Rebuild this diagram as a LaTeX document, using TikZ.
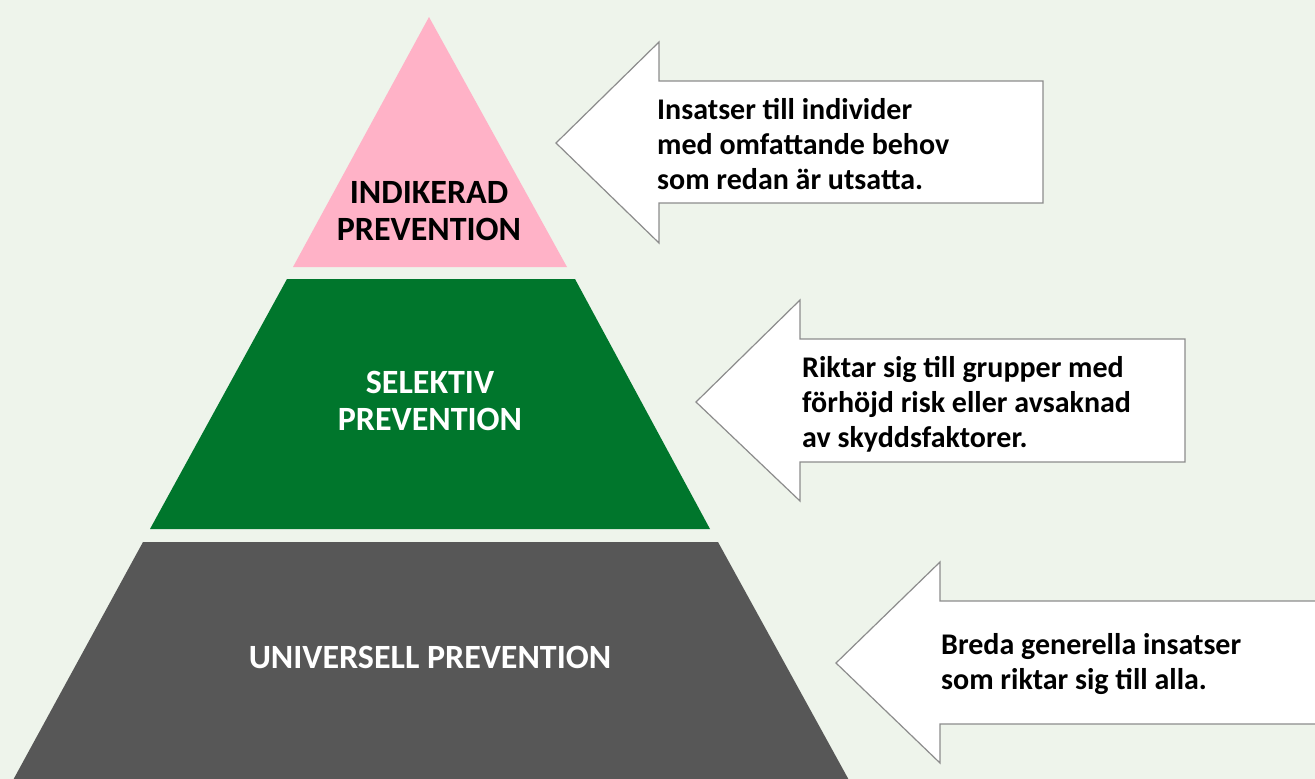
\documentclass[tikz,border=0pt]{standalone}
\usepackage{fontspec}
\setmainfont{Carlito}
\definecolor{bgc}{RGB}{238,244,235}
\definecolor{pinkc}{RGB}{255,178,199}
\definecolor{greenc}{RGB}{0,118,44}
\definecolor{grayc}{RGB}{87,87,87}
\definecolor{edgec}{RGB}{140,140,140}
\tikzset{
  level/.style={draw=none},
  arrowbox/.style={fill=white,draw=edgec,line width=1.2pt,line join=miter},
  leveltext/.style={font=\bfseries\fontsize{34}{37}\selectfont,align=center,inner sep=0pt},
  arrowtext/.style={font=\bfseries\fontsize{30}{35}\selectfont,align=left,inner sep=0pt,anchor=west,text=black}
}
\begin{document}
\begin{tikzpicture}[x=1pt,y=-1pt]
\useasboundingbox (0,0) rectangle (1315,779);
\fill[bgc] (0,0) rectangle (1315,779);
% pyramid
\fill[pinkc] (429,17) -- (567,267) -- (293,267) -- cycle;
\fill[greenc] (287,279) -- (575,279) -- (710,529) -- (150,529) -- cycle;
\fill[grayc] (143,542) -- (718,542) -- (850,782) -- (12,782) -- cycle;
\node[leveltext,text=black] (indikerad) at (429,211) {INDIKERAD\\PREVENTION};
\node[leveltext,text=white] (selektiv) at (430,401) {SELEKTIV\\PREVENTION};
\node[leveltext,text=white] (universell) at (430,657) {UNIVERSELL PREVENTION};
% arrows
\draw[arrowbox] (556,143) -- (659,42) -- (659,81) -- (1043,81) -- (1043,203) -- (659,203) -- (659,243) -- cycle;
\draw[arrowbox] (696,402) -- (800,300) -- (800,339) -- (1185,339) -- (1185,462) -- (800,462) -- (800,501) -- cycle;
\draw[arrowbox] (836,663) -- (940,562) -- (940,601) -- (1330,601) -- (1330,724) -- (940,724) -- (940,763) -- cycle;
\node[arrowtext] (t1) at (657,144) {Insatser till individer\\med omfattande behov\\som redan är utsatta.};
\node[arrowtext] (t2) at (802,404) {Riktar sig till grupper med\\förhöjd risk eller avsaknad\\av skyddsfaktorer.};
\node[arrowtext] (t3) at (941,664) {Breda generella insatser\\som riktar sig till alla.};
\end{tikzpicture}
\end{document}
